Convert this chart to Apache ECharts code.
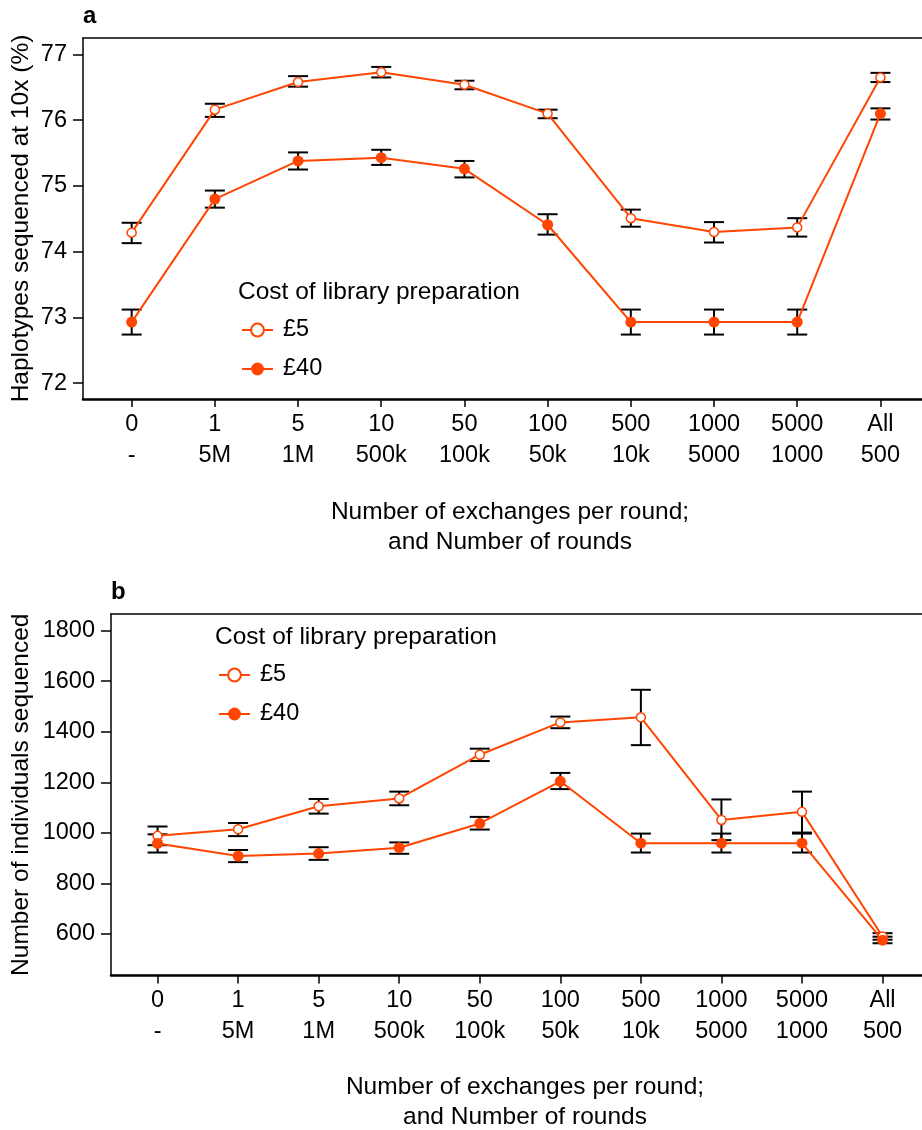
<!DOCTYPE html>
<html>
<head>
<meta charset="utf-8">
<script src="https://cdn.jsdelivr.net/npm/echarts@6/dist/echarts.min.js"></script>
<style>
  html, body { margin: 0; padding: 0; background: #fff; }
  #chart { width: 922px; height: 1130px; }
</style>
</head>
<body>
<div id="chart"></div>
<script>
// Category labels: exchanges per round (first line) and number of rounds (second line)
const exchangesLabels = ['0', '1', '5', '10', '50', '100', '500', '1000', '5000', 'All'];
const roundsLabels = ['-', '5M', '1M', '500k', '100k', '50k', '10k', '5000', '1000', '500'];

// Panel a: haplotypes sequenced at 10x (%)
const hapMean5 = [74.29, 76.16, 76.58, 76.73, 76.54, 76.10, 74.51, 74.30, 74.37, 76.65];
const hapLow5 = [74.13, 76.05, 76.51, 76.65, 76.47, 76.03, 74.38, 74.14, 74.23, 76.58];
const hapHigh5 = [74.44, 76.25, 76.67, 76.81, 76.60, 76.16, 74.64, 74.45, 74.51, 76.72];
const hapMean40 = [72.93, 74.80, 75.38, 75.43, 75.26, 74.41, 72.93, 72.93, 72.93, 76.10];
const hapLow40 = [72.74, 74.67, 75.25, 75.32, 75.13, 74.26, 72.74, 72.74, 72.74, 76.01];
const hapHigh40 = [73.12, 74.93, 75.51, 75.55, 75.38, 74.57, 73.12, 73.12, 73.12, 76.18];
const hapTicks = [72, 73, 74, 75, 76, 77];

// Panel b: number of individuals sequenced
const indMean5 = [988, 1014, 1105, 1136, 1309, 1437, 1457, 1051, 1083, 590];
const indLow5 = [951, 987, 1076, 1109, 1284, 1414, 1347, 971, 1001, 577];
const indHigh5 = [1025, 1039, 1134, 1163, 1333, 1460, 1566, 1132, 1163, 603];
const indMean40 = [958, 908, 918, 941, 1037, 1204, 959, 959, 959, 575];
const indLow40 = [922, 884, 893, 917, 1013, 1173, 922, 922, 922, 563];
const indHigh40 = [994, 932, 943, 962, 1063, 1237, 997, 997, 997, 589];
const indTicks = [600, 800, 1000, 1200, 1400, 1600, 1800];

const seriesNames = ['£5', '£40'];
const legendTitle = 'Cost of library preparation';
const xTitle = 'Number of exchanges per round;\nand Number of rounds';
const yTitleA = 'Haplotypes sequenced at 10x (%)';
const yTitleB = 'Number of individuals sequenced';

const ORANGE = '#FF4500';
const FONT = 'Liberation Sans, Arial, sans-serif';
const TITLE_SIZE = 24.5;
const TICK_SIZE = 23.5;
const positions = exchangesLabels.map((_, i) => i);

const pairs = (vals) => vals.map((v, i) => [i, v]);
const triples = (lo, hi) => lo.map((v, i) => [i, v, hi[i]]);

function renderErrorBar(params, api) {
  const x = api.value(0);
  const lo = api.coord([x, api.value(1)]);
  const hi = api.coord([x, api.value(2)]);
  const half = 10;
  const style = { stroke: '#000', lineWidth: 2 };
  return {
    type: 'group',
    children: [
      { type: 'line', shape: { x1: lo[0], y1: lo[1], x2: hi[0], y2: hi[1] }, style },
      { type: 'line', shape: { x1: lo[0] - half, y1: lo[1], x2: lo[0] + half, y2: lo[1] }, style },
      { type: 'line', shape: { x1: hi[0] - half, y1: hi[1], x2: hi[0] + half, y2: hi[1] }, style }
    ]
  };
}

function xAxisPair(gridIndex, min, max) {
  return [
    {
      type: 'value', gridIndex, min, max, position: 'bottom',
      axisLine: { show: true, onZero: false, lineStyle: { color: '#000', width: 2.5 } },
      axisTick: { show: true, length: 8, customValues: positions, lineStyle: { color: '#000', width: 1.5 } },
      axisLabel: {
        customValues: positions, margin: 10, fontSize: TICK_SIZE, lineHeight: 31,
        color: '#000', fontFamily: FONT,
        formatter: (v) => exchangesLabels[Math.round(v)] + '\n' + roundsLabels[Math.round(v)]
      },
      splitLine: { show: false }
    },
    {
      type: 'value', gridIndex, min, max, position: 'top',
      axisLine: { show: true, onZero: false, lineStyle: { color: '#000', width: 1.5 } },
      axisTick: { show: false }, axisLabel: { show: false }, splitLine: { show: false }
    }
  ];
}

function yAxis(gridIndex, min, max, ticks, name, nameGap) {
  return {
    type: 'value', gridIndex, min, max,
    name, nameLocation: 'middle', nameGap, nameMoveOverlap: false,
    nameTextStyle: { fontSize: TITLE_SIZE, color: '#000', fontFamily: FONT },
    axisLine: { show: true, onZero: false, lineStyle: { color: '#000', width: 1.5 } },
    axisTick: { show: true, length: 10, customValues: ticks, lineStyle: { color: '#000', width: 1.5 } },
    axisLabel: {
      customValues: ticks, margin: 16, fontSize: TICK_SIZE, color: '#000', fontFamily: FONT,
      formatter: (v) => String(v)
    },
    splitLine: { show: false }
  };
}

function lineSeries(name, xi, yi, data, open) {
  return {
    type: 'line', name, xAxisIndex: xi, yAxisIndex: yi, data: pairs(data),
    symbol: 'circle', symbolSize: open ? 9 : 11, z: 3,
    lineStyle: { color: ORANGE, width: 2 },
    itemStyle: open
      ? { color: '#fff', borderColor: ORANGE, borderWidth: 1.5 }
      : { color: ORANGE, borderColor: ORANGE, borderWidth: 0 },
    emphasis: { disabled: true },
    animation: false
  };
}

function errorSeries(xi, yi, lo, hi) {
  return {
    type: 'custom', xAxisIndex: xi, yAxisIndex: yi,
    data: triples(lo, hi), encode: { x: 0, y: [1, 2] },
    renderItem: renderErrorBar, z: 2, silent: true, animation: false
  };
}

function legend(left, top) {
  return {
    data: seriesNames, orient: 'vertical', left, top, padding: 0,
    itemWidth: 31, itemHeight: 16, itemGap: 15,
    textStyle: { fontSize: TICK_SIZE, lineHeight: 24, color: '#000', fontFamily: FONT, padding: [0, 0, 0, 5] },
    selectedMode: false
  };
}

function text(x, y, str, opts) {
  return {
    type: 'text', x, y,
    style: Object.assign({ text: str, fill: '#000', fontSize: TITLE_SIZE, fontFamily: FONT, verticalAlign: 'middle' }, opts || {})
  };
}

const chart = echarts.init(document.getElementById('chart'), null, { renderer: 'canvas' });

chart.setOption({
  backgroundColor: '#fff',
  animation: false,
  grid: [
    { left: 83, top: 38, right: 0, bottom: 731, containLabel: false, outerBoundsMode: 'none' },
    { left: 111, top: 614, right: 0, bottom: 154.5, containLabel: false, outerBoundsMode: 'none' }
  ],
  xAxis: [
    ...xAxisPair(0, -0.585, 9.5),
    ...xAxisPair(1, -0.578, 9.49)
  ],
  yAxis: [
    yAxis(0, 71.76, 77.25, hapTicks, yTitleA, 49),
    yAxis(1, 435.4, 1865.9, indTicks, yTitleB, 77)
  ],
  legend: [legend(241, 318), legend(218, 663)],
  series: [
    errorSeries(0, 0, hapLow5, hapHigh5),
    errorSeries(0, 0, hapLow40, hapHigh40),
    lineSeries(seriesNames[0], 0, 0, hapMean5, true),
    lineSeries(seriesNames[1], 0, 0, hapMean40, false),
    errorSeries(2, 1, indLow5, indHigh5),
    errorSeries(2, 1, indLow40, indHigh40),
    lineSeries(seriesNames[0], 2, 1, indMean5, true),
    lineSeries(seriesNames[1], 2, 1, indMean40, false)
  ],
  graphic: [
    text(83, 16, 'a', { fontWeight: 'bold', fontSize: 24 }),
    text(111, 592, 'b', { fontWeight: 'bold', fontSize: 24 }),
    text(238, 292, legendTitle),
    text(215, 637, legendTitle),
    text(510, 527, xTitle, { align: 'center', lineHeight: 30 }),
    text(525, 1102, xTitle, { align: 'center', lineHeight: 30 })
  ]
});
</script>
</body>
</html>
